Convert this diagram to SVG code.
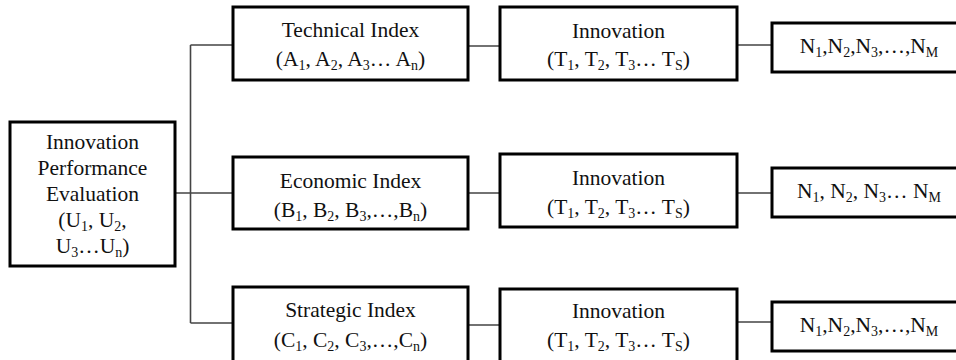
<svg xmlns="http://www.w3.org/2000/svg" width="956" height="360" viewBox="0 0 956 360">
<style>
.box{fill:#fff;stroke:#000;stroke-width:3}
.ln{stroke:#444;stroke-width:1.6;fill:none}
text{font-family:'Liberation Serif','Times New Roman',serif;font-size:21.5px;fill:#111;text-anchor:middle}
.s{font-size:14px}
</style>
<rect width="956" height="360" fill="#fff"/>
<g id="connectors">
<path class="ln" d="M190.5 45V323M175 193H233M190.5 45H233M190.5 323H233M468 46H500M468 193H500M468 325H500M737 45H772M737 193H772M737 322H772"/>
</g>
<g id="eval">
<rect class="box" x="10" y="122" width="165" height="144"/>
<text x="92.5" y="149">Innovation</text>
<text x="92.5" y="175">Performance</text>
<text x="92.5" y="201">Evaluation</text>
<text x="92.5" y="227">(U<tspan class="s" dy="4">1</tspan><tspan dy="-4">, U</tspan><tspan class="s" dy="4">2</tspan><tspan dy="-4">,</tspan></text>
<text x="92.5" y="253">U<tspan class="s" dy="4">3</tspan><tspan dy="-4">…U</tspan><tspan class="s" dy="4">n</tspan><tspan dy="-4">)</tspan></text>
</g>
<g id="technical">
<rect class="box" x="233" y="7" width="235" height="73"/>
<text x="350.5" y="37">Technical Index</text>
<text x="350.5" y="66">(A<tspan class="s" dy="4">1</tspan><tspan dy="-4">, A</tspan><tspan class="s" dy="4">2</tspan><tspan dy="-4">, A</tspan><tspan class="s" dy="4">3</tspan><tspan dy="-4">… A</tspan><tspan class="s" dy="4">n</tspan><tspan dy="-4">)</tspan></text>
</g>
<g id="economic">
<rect class="box" x="233" y="157" width="235" height="72"/>
<text x="350.5" y="188">Economic Index</text>
<text x="350.5" y="217">(B<tspan class="s" dy="4">1</tspan><tspan dy="-4">, B</tspan><tspan class="s" dy="4">2</tspan><tspan dy="-4">, B</tspan><tspan class="s" dy="4">3</tspan><tspan dy="-4">,…,B</tspan><tspan class="s" dy="4">n</tspan><tspan dy="-4">)</tspan></text>
</g>
<g id="strategic">
<rect class="box" x="233" y="287" width="235" height="80"/>
<text x="350.5" y="317">Strategic Index</text>
<text x="350.5" y="347">(C<tspan class="s" dy="4">1</tspan><tspan dy="-4">, C</tspan><tspan class="s" dy="4">2</tspan><tspan dy="-4">, C</tspan><tspan class="s" dy="4">3</tspan><tspan dy="-4">,…,C</tspan><tspan class="s" dy="4">n</tspan><tspan dy="-4">)</tspan></text>
</g>
<g id="innov1">
<rect class="box" x="500" y="7" width="237" height="73"/>
<text x="618.5" y="38">Innovation</text>
<text x="618.5" y="66">(T<tspan class="s" dy="4">1</tspan><tspan dy="-4">, T</tspan><tspan class="s" dy="4">2</tspan><tspan dy="-4">, T</tspan><tspan class="s" dy="4">3</tspan><tspan dy="-4">… T</tspan><tspan class="s" dy="4">S</tspan><tspan dy="-4">)</tspan></text>
</g>
<g id="innov2">
<rect class="box" x="500" y="154" width="237" height="73"/>
<text x="618.5" y="185">Innovation</text>
<text x="618.5" y="214">(T<tspan class="s" dy="4">1</tspan><tspan dy="-4">, T</tspan><tspan class="s" dy="4">2</tspan><tspan dy="-4">, T</tspan><tspan class="s" dy="4">3</tspan><tspan dy="-4">… T</tspan><tspan class="s" dy="4">S</tspan><tspan dy="-4">)</tspan></text>
</g>
<g id="innov3">
<rect class="box" x="500" y="289" width="237" height="80"/>
<text x="618.5" y="318">Innovation</text>
<text x="618.5" y="347">(T<tspan class="s" dy="4">1</tspan><tspan dy="-4">, T</tspan><tspan class="s" dy="4">2</tspan><tspan dy="-4">, T</tspan><tspan class="s" dy="4">3</tspan><tspan dy="-4">… T</tspan><tspan class="s" dy="4">S</tspan><tspan dy="-4">)</tspan></text>
</g>
<g id="n1">
<rect class="box" x="772" y="23" width="200" height="49"/>
<text x="869" y="53">N<tspan class="s" dy="4">1</tspan><tspan dy="-4">,N</tspan><tspan class="s" dy="4">2</tspan><tspan dy="-4">,N</tspan><tspan class="s" dy="4">3</tspan><tspan dy="-4">,…,N</tspan><tspan class="s" dy="4">M</tspan></text>
</g>
<g id="n2">
<rect class="box" x="772" y="168" width="200" height="49"/>
<text x="869" y="198">N<tspan class="s" dy="4">1</tspan><tspan dy="-4">, N</tspan><tspan class="s" dy="4">2</tspan><tspan dy="-4">, N</tspan><tspan class="s" dy="4">3</tspan><tspan dy="-4">… N</tspan><tspan class="s" dy="4">M</tspan></text>
</g>
<g id="n3">
<rect class="box" x="772" y="302" width="200" height="49"/>
<text x="869" y="332">N<tspan class="s" dy="4">1</tspan><tspan dy="-4">,N</tspan><tspan class="s" dy="4">2</tspan><tspan dy="-4">,N</tspan><tspan class="s" dy="4">3</tspan><tspan dy="-4">,…,N</tspan><tspan class="s" dy="4">M</tspan></text>
</g>
</svg>
